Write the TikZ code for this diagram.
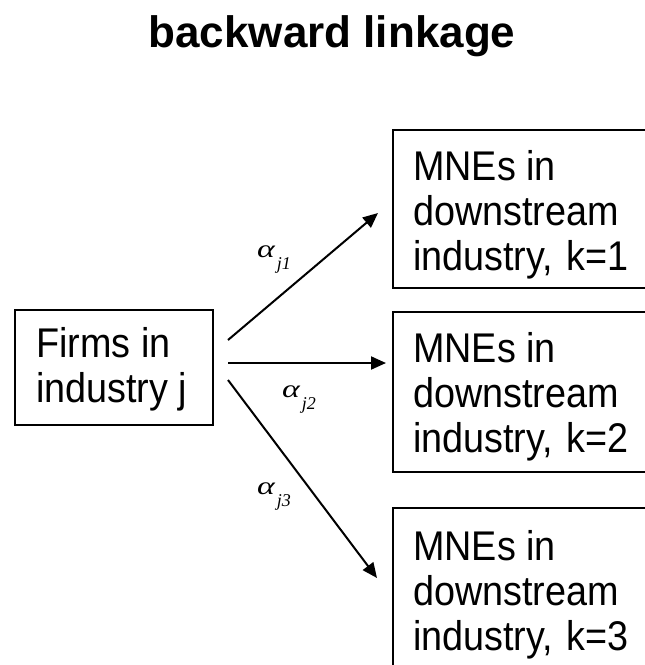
\documentclass[tikz,border=0pt]{standalone}
\usepackage{fontspec}
\setmainfont{Liberation Sans}
\newfontfamily\boxfont{Liberation Sans}[FakeStretch=0.91]
\newfontfamily\lblfont{Liberation Serif}[FakeStretch=1.35]
\newfontfamily\subfont{Liberation Serif}
\usetikzlibrary{arrows.meta}
\newcommand{\alphalbl}[1]{{\lblfont\itshape\fontsize{25}{25}\selectfont α\kern2pt\raisebox{-12pt}{\subfont\itshape\fontsize{18}{18}\selectfont #1}}}
\begin{document}
\begin{tikzpicture}[x=1pt,y=-1pt,
  frame/.style={draw, line width=2pt},
  boxtext/.style={anchor=base west, align=left, inner sep=0pt, font=\boxfont\fontsize{41.5}{45}\selectfont},
  link/.style={line width=2pt, -{Triangle[length=15pt,width=13pt]}},
  lbl/.style={anchor=base west, inner sep=0pt}
]
\useasboundingbox (0,0) rectangle (645,665);
\clip (0,0) rectangle (645,665);

\node[anchor=base, inner sep=0pt, font=\bfseries\fontsize{44}{44}\selectfont] (title) at (332,47) {backward linkage};

% boxes
\draw[frame] (15,310) rectangle (213,425);
\draw[frame] (393,130) rectangle (700,288);
\draw[frame] (393,312) rectangle (700,472);
\draw[frame] (393,508) rectangle (700,720);

\node[boxtext] (firms) at (36,402) {Firms in\\industry j};
\node[boxtext] (k1) at (413,270) {MNEs in\\downstream\\industry,\kern3pt\ k=1};
\node[boxtext] (k2) at (413,452) {MNEs in\\downstream\\industry,\kern3pt\ k=2};
\node[boxtext] (k3) at (413,650) {MNEs in\\downstream\\industry,\kern3pt\ k=3};

% connectors
\coordinate (s1) at (228,340);
\coordinate (s2) at (228,363);
\coordinate (s3) at (228,380);
\coordinate (e1) at (378,213);
\coordinate (e2) at (386,363);
\coordinate (e3) at (377,578);
\draw[link] (s1) -- (e1);
\draw[link] (s2) -- (e2);
\draw[link] (s3) -- (e3);

\node[lbl] (a1) at (257,257) {\alphalbl{j1}};
\node[lbl] (a2) at (282,397) {\alphalbl{j2}};
\node[lbl] (a3) at (257,494) {\alphalbl{j3}};
\end{tikzpicture}
\end{document}
